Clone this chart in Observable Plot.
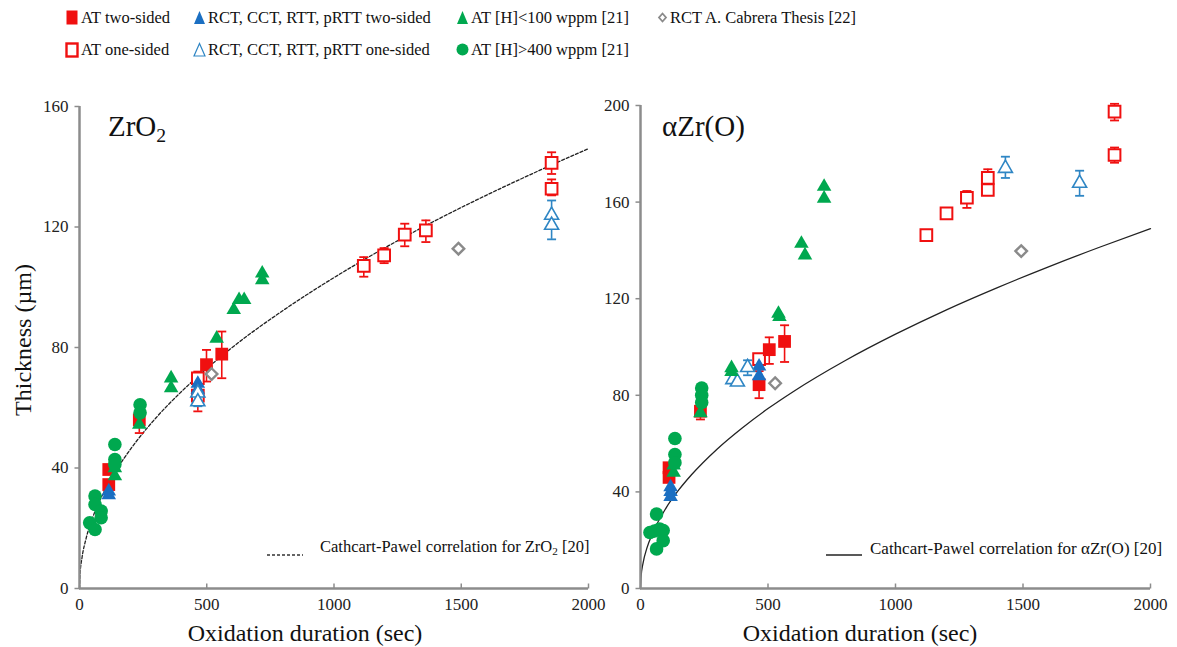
<!DOCTYPE html>
<html><head><meta charset="utf-8">
<script src="https://cdn.jsdelivr.net/npm/d3@7"></script>
<script src="https://cdn.jsdelivr.net/npm/@observablehq/plot@0.6"></script>
<style>
body{margin:0;background:#fff;font-family:"Liberation Serif","Times New Roman",Tinos,"DejaVu Serif",serif;}
#wrap{position:relative;width:1177px;height:647px;overflow:hidden;background:#fff;}
.abs{position:absolute;white-space:nowrap;color:#111;line-height:1;}
.plot{position:absolute;top:90px;}
.plot svg{overflow:visible;}
</style></head><body><div id="wrap"></div>
<script>
// ---------- shared ticks ----------
const xTicks = [0, 500, 1000, 1500, 2000];
const zrYTicks = [0, 40, 80, 120, 160];
const azYTicks = [0, 40, 80, 120, 160, 200];

// ---------- ZrO2 panel: [time s, thickness µm] ----------
const zrATtwo = [[115,39.5],[115,34.5],[235,56],[499,74.3],[559,77.8]];
const zrATtwoErr = [[235,51.6,58],[499,68.7,79.2],[559,69.8,85.3]];
const zrATone = [[465,69.8],[465,64],[1117,107.1],[1197,110.6],[1278,117.5],[1361,118.9],[1855,141.3],[1855,132.7]];
const zrAToneErr = [[465,58.8,72],[1117,103.5,110],[1197,108,113],[1278,113.6,121.1],[1361,115,122.2],[1855,137.6,144.8],[1855,130.5,135.8]];
const zrRCTtwo = [[115,32.3],[115,31],[465,68],[465,66]];
const zrRCTone = [[465,64.9],[465,62],[1855,123.9],[1855,120.6]];
const zrRCTErr = [[465,60.5,70],[1855,115.9,128.8]];
const zrHlow = [[139,40],[139,37.3],[235,54.4],[360,69.8],[360,66.5],[539,83],[606,92.5],[627,95.8],[647,95.8],[718,104.6],[718,102.4]];
const zrHhigh = [[61,30.7],[61,27.9],[85,25.7],[85,23.5],[40,21.8],[61,19.6],[139,47.8],[139,42.8],[139,41.2],[238,61],[238,58.3]];
const zrCabrera = [[519,71.2],[1489,112.8]];
const zrCurveT = [0, 2, 10, 25, 50, 100, 150, 200, 300, 400, 500, 600, 800, 1000, 1200, 1400, 1600, 1800, 2000];
const zrCurveV = [0, 4.6, 10.3, 16.3, 23.1, 32.7, 40, 46.2, 56.6, 65.3, 73, 80, 92.3, 103.2, 113.1, 122.2, 130.6, 138.5, 146];

// ---------- αZr(O) panel ----------
const azATtwo = [[112,50],[112,46],[235,73.4],[465,84.4],[505,98.9],[565,102.3]];
const azATtwoErr = [[235,70,75],[465,78.8,90],[505,93,104],[565,93.8,109]];
const azATone = [[465,95],[1121,146.3],[1200,155.3],[1280,161.8],[1362,170],[1362,165],[1859,197.5],[1859,179.5]];
const azAToneErr = [[1121,145,148],[1200,154,156.5],[1280,157.6,164.6],[1362,164,173.6],[1859,193.8,200.7],[1859,176.3,182.6]];
const azRCTtwo = [[118,42],[118,40],[118,38],[465,92],[465,88]];
const azRCTone = [[362,86.5],[380,85.5],[420,91.5],[1431,174],[1722,167.8]];
const azRCTErr = [[420,88.3,94.5],[1431,170,178.8],[1722,162.6,173]];
const azHlow = [[130,51],[130,48],[235,72.7],[357,91.3],[357,89.7],[541,113.8],[545,112.5],[631,142.8],[645,138],[720,166.4],[720,161.5]];
const azHhigh = [[63,30.8],[37,23.2],[55,23.8],[75,24.6],[89,24],[89,19.8],[63,16.4],[135,62.1],[135,55.5],[135,52.1],[240,83],[240,80],[240,77]];
const azCabrera = [[528,85],[1493,139.7]];
const azCurveT = [0, 2, 10, 25, 50, 100, 150, 200, 300, 400, 500, 600, 800, 1000, 1200, 1400, 1600, 1800, 2000];
const azCurveV = [0, 4.7, 10.5, 16.7, 23.5, 33.3, 40.8, 47.1, 57.7, 66.6, 74.5, 81.6, 94.2, 105.3, 115.4, 124.6, 133.2, 141.3, 149];

// ---------- colours ----------
const RED = "#f01010", BLUE = "#1b6fc2", BLUE_OPEN = "#2f86c4", GREEN = "#00a84f", GREY = "#8a8a8a";
const SERIF = '"Liberation Serif","Times New Roman",Tinos,"DejaVu Serif",serif';

const pts = a => a.map(([t, v]) => ({t, v}));
const errs = a => a.map(([t, lo, hi]) => ({t, lo, hi}));
const cap = {draw(ctx, size){ const h = Math.sqrt(size/Math.PI); ctx.moveTo(-h,0); ctx.lineTo(h,0); }};
const tickLeft = {draw(ctx, size){ const h = Math.sqrt(size/Math.PI); ctx.moveTo(0,0); ctx.lineTo(-h,0); }};
const tickUp = {draw(ctx, size){ const h = Math.sqrt(size/Math.PI); ctx.moveTo(0,0); ctx.lineTo(0,-h); }};

function errMarks(arr, color){
  const d = errs(arr);
  return [
    Plot.ruleX(d, {x:"t", y1:"lo", y2:"hi", stroke:color, strokeWidth:1.6}),
    Plot.dot(d, {x:"t", y:"lo", symbol:cap, r:4.5, stroke:color, strokeWidth:1.8}),
    Plot.dot(d, {x:"t", y:"hi", symbol:cap, r:4.5, stroke:color, strokeWidth:1.8})
  ];
}

function panel(o){
  const curve = o.curveT.map((t,i) => ({t, v:o.curveV[i]}));
  return Plot.plot({
    width:o.width, height:557,
    marginLeft:o.ml, marginRight:o.mr, marginTop:o.mt, marginBottom:59,
    style:{fontFamily:SERIF, fontSize:"17px", color:"#222", background:"transparent", overflow:"visible"},
    x:{domain:[0,2000], ticks:xTicks, tickSize:0, tickPadding:9, label:null, tickFormat:d=>String(d)},
    y:{domain:[0, o.ymax], ticks:o.yticks, tickSize:0, tickPadding:11, label:null, tickFormat:d=>String(d)},
    marks:[
      Plot.line(curve, {x:"t", y:"v", stroke:"#222", strokeWidth:1.3, strokeDasharray:o.dash, curve:"monotone-x"}),
      Plot.ruleX([0], {stroke:"#8c8c8c", strokeWidth:2.5}),
      Plot.ruleY([0], {stroke:"#8c8c8c", strokeWidth:2.5}),
      Plot.dot(o.yticks, {x:0, y:d=>d, symbol:tickLeft, r:5, stroke:"#8c8c8c", strokeWidth:1.5}),
      Plot.dot(xTicks.slice(1), {x:d=>d, y:0, symbol:tickUp, r:5, stroke:"#8c8c8c", strokeWidth:1.5}),
      ...errMarks(o.atOneErr, RED),
      ...errMarks(o.atTwoErr, RED),
      ...errMarks(o.rctErr, BLUE_OPEN),
      Plot.dot(pts(o.atOne), {x:"t", y:"v", symbol:"square", r:6.6, fill:"white", stroke:RED, strokeWidth:2}),
      Plot.dot(pts(o.atTwo), {x:"t", y:"v", symbol:"square", r:7.2, fill:RED}),
      Plot.dot(pts(o.rctTwo), {x:"t", y:"v", symbol:"triangle", r:5.4, fill:BLUE}),
      Plot.dot(pts(o.rctOne), {x:"t", y:"v", symbol:"triangle", r:5.2, fill:"white", stroke:BLUE_OPEN, strokeWidth:1.6}),
      Plot.dot(pts(o.hlow), {x:"t", y:"v", symbol:"triangle", r:5.4, fill:GREEN}),
      Plot.dot(pts(o.hhigh), {x:"t", y:"v", symbol:"circle", r:6.8, fill:GREEN}),
      Plot.dot(pts(o.cab), {x:"t", y:"v", symbol:"diamond2", r:5.2, fill:"white", stroke:GREY, strokeWidth:2.4})
    ]
  });
}

const wrap = document.getElementById("wrap");

const left = panel({width:590, ml:79, mr:2, mt:16, ymax:160, yticks:zrYTicks, dash:"3,2",
  curveT:zrCurveT, curveV:zrCurveV, atTwo:zrATtwo, atTwoErr:zrATtwoErr, atOne:zrATone, atOneErr:zrAToneErr,
  rctTwo:zrRCTtwo, rctOne:zrRCTone, rctErr:zrRCTErr, hlow:zrHlow, hhigh:zrHhigh, cab:zrCabrera});
const right = panel({width:587, ml:50, mr:27, mt:15, ymax:200, yticks:azYTicks, dash:null,
  curveT:azCurveT, curveV:azCurveV, atTwo:azATtwo, atTwoErr:azATtwoErr, atOne:azATone, atOneErr:azAToneErr,
  rctTwo:azRCTtwo, rctOne:azRCTone, rctErr:azRCTErr, hlow:azHlow, hhigh:azHhigh, cab:azCabrera});

const dl = document.createElement("div"); dl.className = "plot"; dl.style.left = "0px"; dl.appendChild(left); wrap.appendChild(dl);
const dr = document.createElement("div"); dr.className = "plot"; dr.style.left = "590px"; dr.appendChild(right); wrap.appendChild(dr);

function addText(html, css){
  const d = document.createElement("div"); d.className = "abs"; d.innerHTML = html;
  Object.assign(d.style, css); wrap.appendChild(d); return d;
}

// panel titles
addText("ZrO<sub style='font-size:0.68em;vertical-align:-0.28em'>2</sub>", {left:"108px", top:"112px", fontSize:"29px"});
addText("αZr(O)", {left:"662px", top:"112px", fontSize:"29px"});

// axis titles
addText("Oxidation duration (sec)", {left:"305px", top:"633px", fontSize:"24px", transform:"translate(-50%,-50%)"});
addText("Oxidation duration (sec)", {left:"860px", top:"633px", fontSize:"24px", transform:"translate(-50%,-50%)"});
addText("Thickness (µm)", {left:"23px", top:"340px", fontSize:"24px", transform:"translate(-50%,-50%) rotate(-90deg)"});

// correlation legends
addText("<svg width='36' height='4' style='vertical-align:middle'><line x1='0' x2='36' y1='2' y2='2' stroke='#333' stroke-width='1.3' stroke-dasharray='3,2'/></svg>", {left:"267px", top:"546px"});
addText("Cathcart-Pawel correlation for ZrO<sub style='font-size:0.68em;vertical-align:-0.25em'>2</sub> [20]", {left:"320px", top:"548px", fontSize:"16.5px", transform:"translateY(-50%)"});
addText("<svg width='36' height='4' style='vertical-align:middle'><line x1='0' x2='36' y1='2' y2='2' stroke='#222' stroke-width='1.3'/></svg>", {left:"826px", top:"546px"});
addText("Cathcart-Pawel correlation for αZr(O) [20]", {left:"870px", top:"548px", fontSize:"17px", transform:"translateY(-50%)"});

// top legend
const legendItems = [
  {row:0, mx:66, tx:81, svg:`<svg width="13" height="15"><rect x="0.5" y="0.5" width="11" height="14" fill="${RED}"/></svg>`, label:"AT two-sided"},
  {row:0, mx:193, tx:208, svg:`<svg width="13" height="15"><polygon points="6.5,1 12,14 1,14" fill="${BLUE}"/></svg>`, label:"RCT, CCT, RTT, pRTT two-sided"},
  {row:0, mx:456, tx:471, svg:`<svg width="13" height="15"><polygon points="6.5,1 12,14 1,14" fill="${GREEN}"/></svg>`, label:"AT [H]&lt;100 wppm [21]"},
  {row:0, mx:657, tx:670, svg:`<svg width="11" height="15"><polygon points="5.5,3.5 9,7.5 5.5,11.5 2,7.5" fill="white" stroke="${GREY}" stroke-width="1.8"/></svg>`, label:"RCT A. Cabrera Thesis [22]"},
  {row:1, mx:65, tx:81, svg:`<svg width="14" height="16"><rect x="1.5" y="1.5" width="11" height="13" fill="white" stroke="${RED}" stroke-width="2.4"/></svg>`, label:"AT one-sided"},
  {row:1, mx:193, tx:208, svg:`<svg width="13" height="15"><polygon points="6.5,1.5 12,14 1,14" fill="white" stroke="${BLUE_OPEN}" stroke-width="1.2"/></svg>`, label:"RCT, CCT, RTT, pRTT one-sided"},
  {row:1, mx:456, tx:471, svg:`<svg width="13" height="15"><circle cx="6.5" cy="7.5" r="6" fill="${GREEN}"/></svg>`, label:"AT [H]&gt;400 wppm [21]"}
];
const rowY = [18, 50];
legendItems.forEach(it => {
  addText(it.svg, {left: it.mx + "px", top: (rowY[it.row] - 8) + "px"});
  addText(it.label, {left: it.tx + "px", top: rowY[it.row] + "px", fontSize:"16.5px", transform:"translateY(-50%)"});
});
</script></body></html>
